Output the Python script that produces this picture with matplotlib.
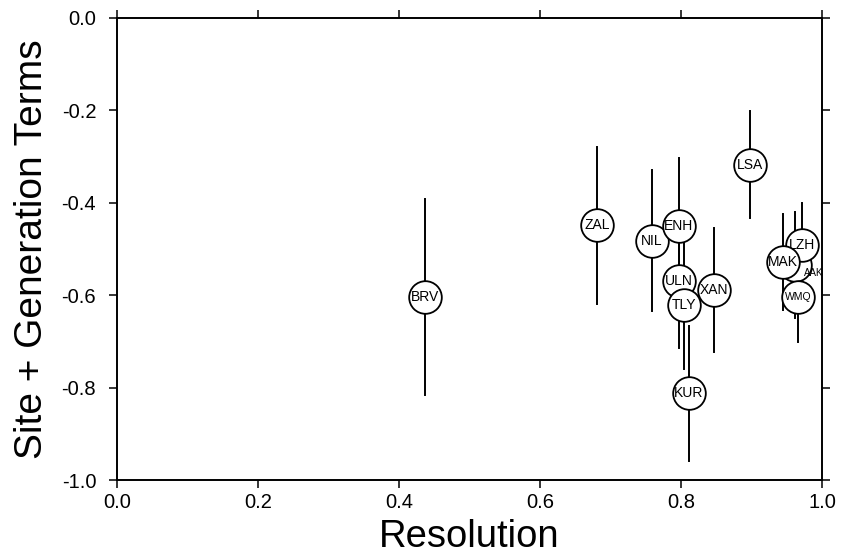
import matplotlib.pyplot as plt

plt.rcParams['font.family'] = ['Liberation Sans', 'DejaVu Sans']

# station values
stations = ['BRV', 'ZAL', 'NIL', 'ENH', 'ULN', 'TLY', 'KUR', 'XAN', 'LSA',
            'AAK', 'LZH', 'MAK', 'WMQ']
resolution = [0.437, 0.681, 0.759, 0.797, 0.797, 0.804, 0.811, 0.847, 0.898,
              0.962, 0.972, 0.945, 0.966]
site_terms = [-0.604, -0.449, -0.482, -0.450, -0.569, -0.621, -0.812, -0.589, -0.318,
              -0.535, -0.491, -0.528, -0.604]
errors = [0.212, 0.170, 0.153, 0.146, 0.145, 0.139, 0.146, 0.134, 0.116,
          0.115, 0.091, 0.104, 0.097]
label_size = [10, 10, 10, 10, 10, 10, 10, 10, 10,
              7, 10, 10, 7.5]

fig = plt.figure(figsize=(8.44, 5.57), dpi=100)
ax = fig.add_axes([0.1386, 0.138, 0.8354, 0.830])

# error bars first, then circles with labels on top
for i in range(len(stations)):
    ax.plot([resolution[i], resolution[i]],
            [site_terms[i] - errors[i], site_terms[i] + errors[i]],
            color='black', lw=1.4, zorder=2)

for i, name in enumerate(stations):
    ax.plot(resolution[i], site_terms[i], 'o', ms=23.5, mfc='white',
            mec='black', mew=1.3, zorder=3 + i)
    if name == 'AAK':
        ax.annotate(name, (resolution[i], site_terms[i]), xytext=(13, -6),
                    textcoords='offset points', ha='center', va='center',
                    fontsize=label_size[i], zorder=3 + i)
    else:
        ax.text(resolution[i], site_terms[i], name, ha='center', va='center',
                fontsize=label_size[i], zorder=3 + i)

ax.set_xlim(0, 1)
ax.set_ylim(-1, 0)
ax.set_xticks([0.0, 0.2, 0.4, 0.6, 0.8, 1.0])
ax.set_yticks([-1.0, -0.8, -0.6, -0.4, -0.2, 0.0])
ax.set_xticklabels(['0.0', '0.2', '0.4', '0.6', '0.8', '1.0'])
ax.set_yticklabels(['-1.0', '-0.8', '-0.6', '-0.4', '-0.2', '0.0'])
ax.tick_params(direction='out', length=6, width=1.1, labelsize=14.5,
               top=True, right=True)
ax.tick_params(axis='y', pad=9)
ax.tick_params(axis='x', pad=3)
for s in ax.spines.values():
    s.set_linewidth(1.4)

ax.set_xlabel('Resolution', fontsize=27.5, labelpad=5)
ax.set_ylabel('Site + Generation Terms', fontsize=28, labelpad=8)

fig.savefig('out.png', dpi=100)
